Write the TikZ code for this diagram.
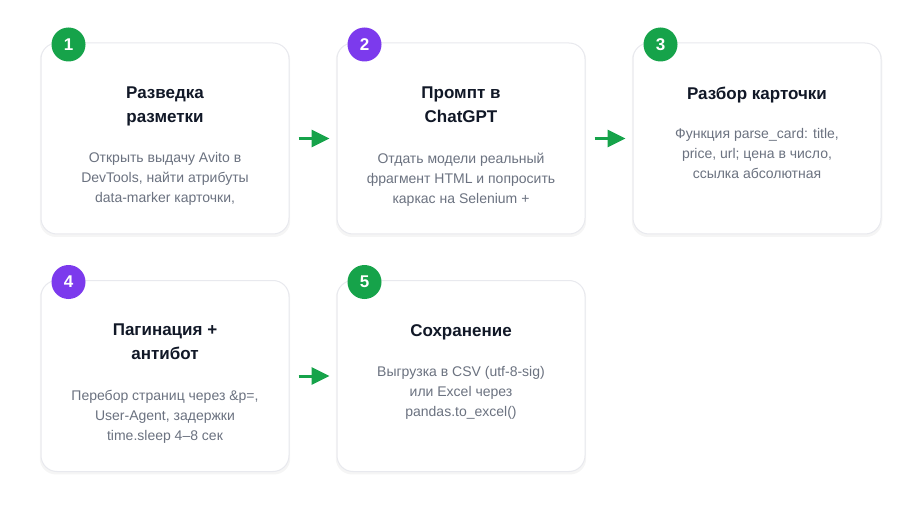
\documentclass[tikz,border=0pt]{standalone}
\usepackage{fontspec}
\setmainfont{Liberation Sans}
\usetikzlibrary{arrows.meta}
\usetikzlibrary{shadows}
\usetikzlibrary{positioning}
\definecolor{stepgreen}{HTML}{16A34A}
\definecolor{steppurple}{HTML}{7C3AED}
\definecolor{cardline}{HTML}{E8E9EE}
\definecolor{titleink}{HTML}{111827}
\definecolor{bodyink}{HTML}{6B7280}

\begin{document}
\begin{tikzpicture}[x=1pt, y=-1pt,
		card/.style={draw=cardline, line width=1pt, fill=white, rounded corners=16pt, minimum width=248pt, minimum height=191pt,
			drop shadow={shadow xshift=0pt, shadow yshift=-2pt, shadow scale=1.01, fill=black, opacity=0.04}},
		badge/.style={circle, fill=#1, text=white, minimum size=34pt, inner sep=0pt, font=\bfseries\fontsize{17}{20}\selectfont},
		cardtitle/.style={anchor=north, align=center, inner sep=0pt, text=titleink, font=\bfseries\fontsize{17}{24}\selectfont},
		cardbody/.style={anchor=north, align=center, inner sep=0pt, text=bodyink, font=\fontsize{14}{20}\selectfont},
		flow/.style={-{Triangle[length=18pt, width=17pt]}, line width=3pt, draw=stepgreen}]
	\useasboundingbox[fill=white] (0,0) rectangle (922,516);

	% cards
	\node[card] (c1) at (165,138.5) {};
	\node[card] (c2) at (461,138.5) {};
	\node[card] (c3) at (757,138.5) {};
	\node[card] (c4) at (165,376) {};
	\node[card] (c5) at (461,376) {};

	% numbers
	\node[badge=stepgreen] (b1) at ([xshift=28pt, yshift=-2pt]c1.north west) {1};
	\node[badge=steppurple] (b2) at ([xshift=28pt, yshift=-2pt]c2.north west) {2};
	\node[badge=stepgreen] (b3) at ([xshift=28pt, yshift=-2pt]c3.north west) {3};
	\node[badge=steppurple] (b4) at ([xshift=28pt, yshift=-2pt]c4.north west) {4};
	\node[badge=stepgreen] (b5) at ([xshift=28pt, yshift=-2pt]c5.north west) {5};

	% texts
	\node[cardtitle] (t1) at ([yshift=-44pt]c1.north) {Разведка\\разметки};
	\node[cardbody] (d1) at ([yshift=-110pt]c1.north) {Открыть выдачу Avito в\\DevTools, найти атрибуты\\data-marker карточки,};
	\node[cardtitle] (t2) at ([yshift=-44pt]c2.north) {Промпт в\\ChatGPT};
	\node[cardbody] (d2) at ([yshift=-110pt]c2.north) {Отдать модели реальный\\фрагмент HTML и попросить\\каркас на Selenium +};
	\node[cardtitle] (t3) at ([yshift=-44pt]c3.north) {Разбор карточки};
	\node[cardbody] (d3) at ([yshift=-86pt]c3.north) {Функция parse\_card: title,\\price, url; цена в число,\\ссылка абсолютная};
	\node[cardtitle] (t4) at ([yshift=-44pt]c4.north) {Пагинация +\\антибот};
	\node[cardbody] (d4) at ([yshift=-110pt]c4.north) {Перебор страниц через \&p=,\\User-Agent, задержки\\time.sleep 4--8 сек};
	\node[cardtitle] (t5) at ([yshift=-44pt]c5.north) {Сохранение};
	\node[cardbody] (d5) at ([yshift=-86pt]c5.north) {Выгрузка в CSV (utf-8-sig)\\или Excel через\\pandas.to\_excel()};

	% arrows
	\draw[flow] ([xshift=9pt]c1.east) -- ([xshift=-7pt]c2.west);
	\draw[flow] ([xshift=9pt]c2.east) -- ([xshift=-7pt]c3.west);
	\draw[flow] ([xshift=9pt]c4.east) -- ([xshift=-7pt]c5.west);
\end{tikzpicture}
\end{document}
